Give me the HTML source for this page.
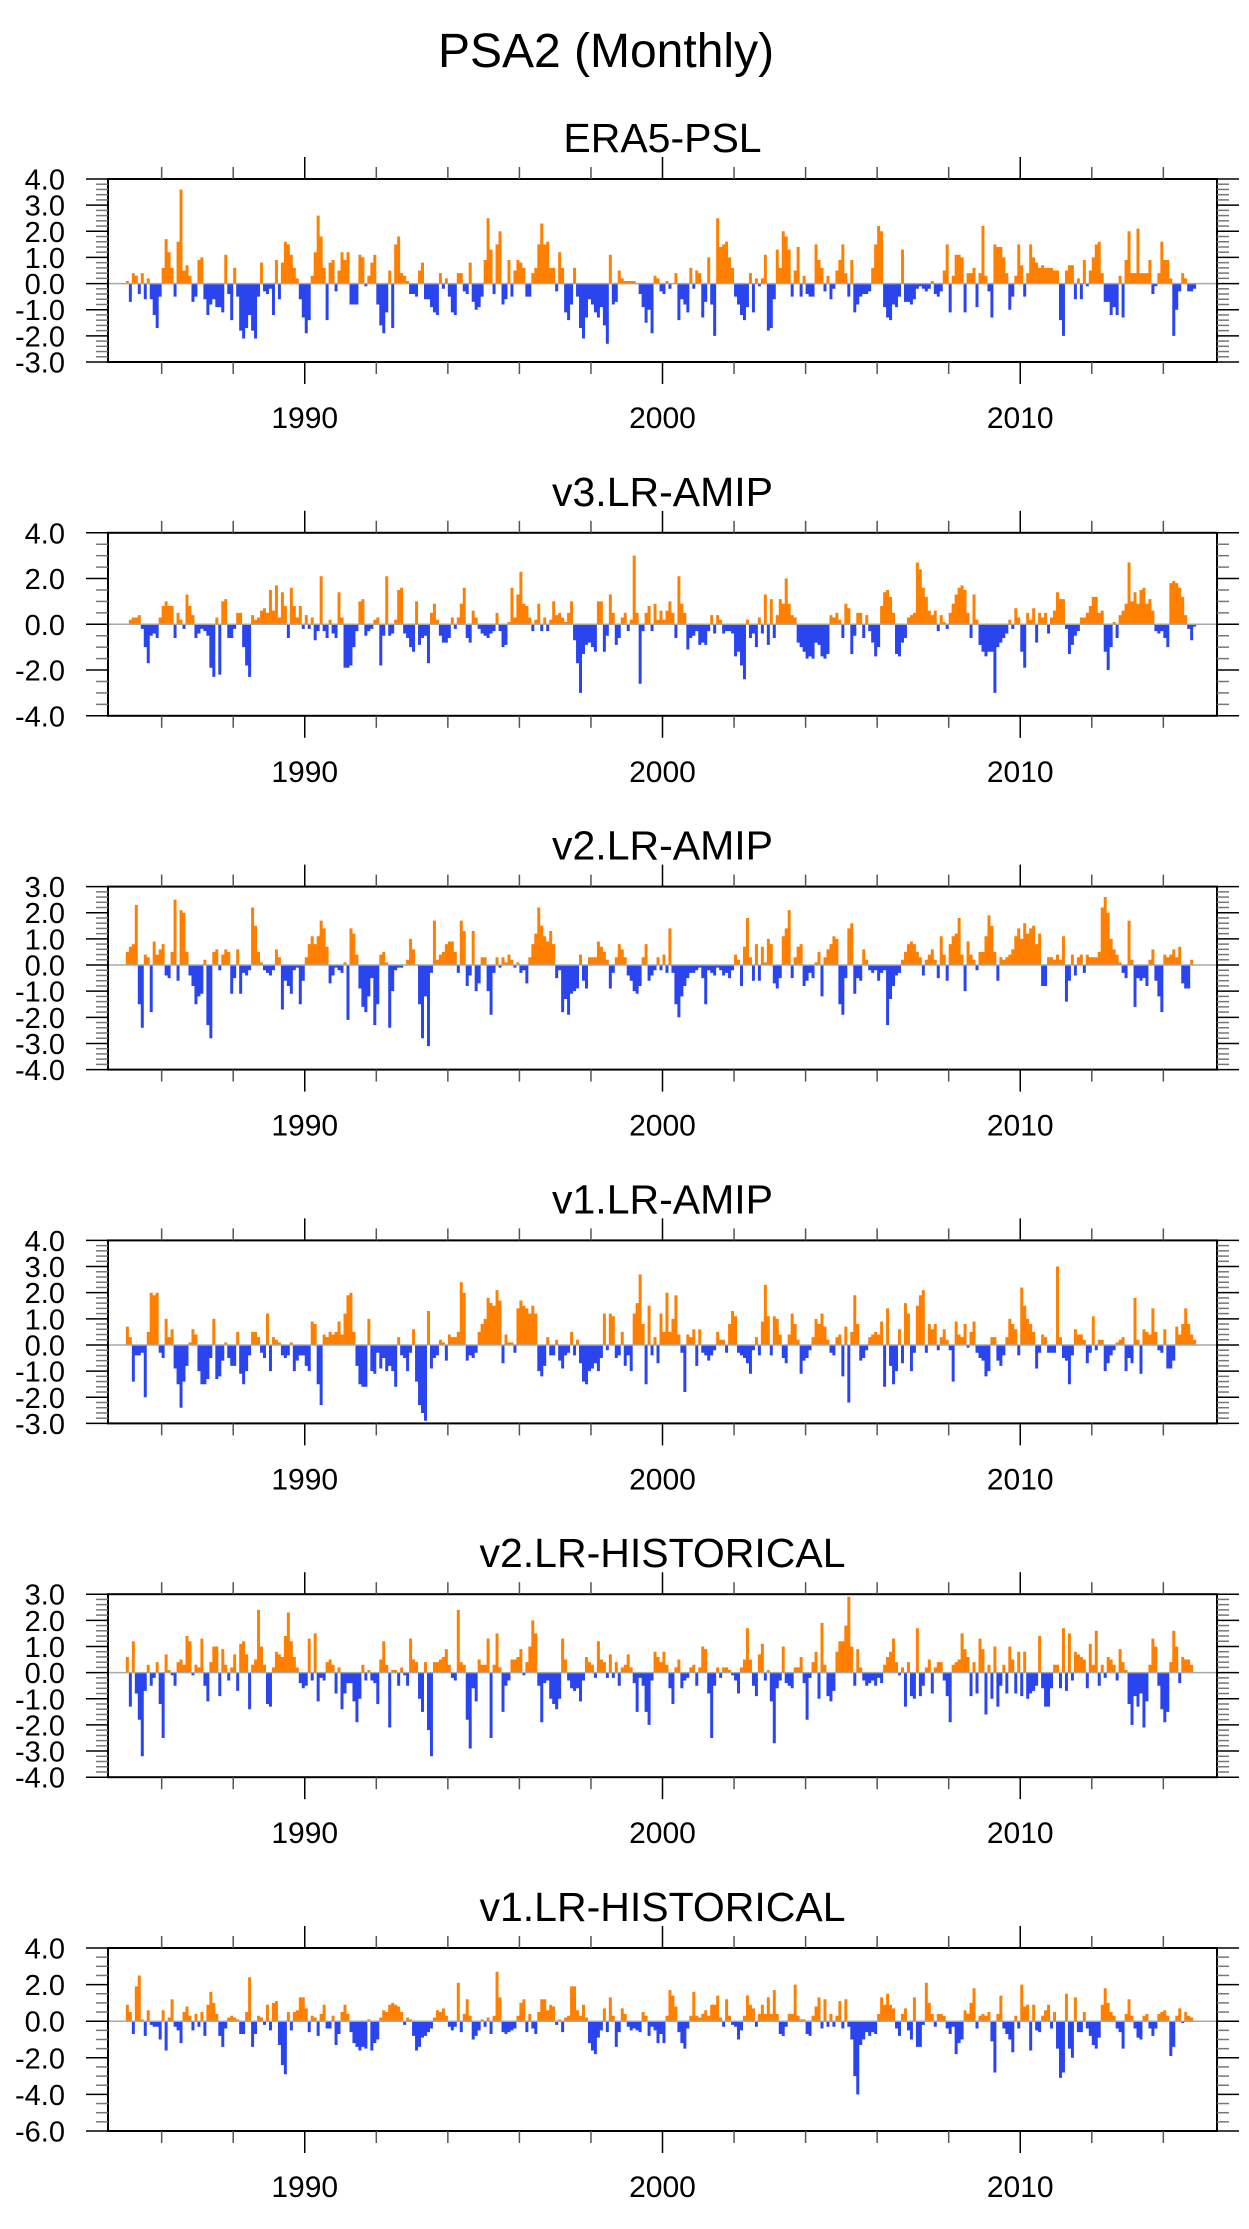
<!DOCTYPE html>
<html><head><meta charset="utf-8">
<style>
html,body{margin:0;padding:0;background:#fff;}
svg{display:block;font-family:"Liberation Sans",Arial,sans-serif;}
</style></head>
<body>
<svg id="fig" width="1249" height="2229" viewBox="0 0 1249 2229" xmlns="http://www.w3.org/2000/svg">
<rect width="1249" height="2229" fill="#fff"/>
<text x="606" y="67" font-size="48" text-anchor="middle">PSA2 (Monthly)</text>
</svg>
<script>
const startYear = 1985;
const panelTitles = ["ERA5-PSL","v3.LR-AMIP","v2.LR-AMIP","v1.LR-AMIP","v2.LR-HISTORICAL","v1.LR-HISTORICAL"];
const yMaxes = [4,4,3,4,3,4];
const yMins = [-3,-4,-4,-3,-4,-6];
const yLabelSteps = [1,2,1,1,1,2];
const yMinorSteps = [0.2,0.5,0.2,0.2,0.2,0.5];
const xTickYears = [1986,1988,1990,1992,1994,1996,1998,2000,2002,2004,2006,2008,2010,2012,2014];
const xLabelYears = [1990,2000,2010];

const seriesEra5 = [0.1,-0.7,0.4,0.3,-0.4,0.4,-0.6,0.2,-0.6,-1.2,-1.7,-0.5,
0.6,1.7,1.2,0.6,-0.5,1.6,3.6,0.5,0.7,0.3,-0.7,-0.5,
0.9,1.0,-0.6,-1.2,-0.8,-0.6,-0.9,-0.9,-1.1,1.1,-0.4,-1.4,
0.6,-0.5,-1.8,-2.1,-1.7,-1.2,-1.8,-2.1,-0.5,0.8,-0.3,-0.4,
-0.2,-1.2,0.9,-0.6,0.8,1.6,1.5,1.1,0.6,0.2,-0.6,-1.3,
-1.9,-1.4,0.3,1.2,2.6,1.8,0.6,-1.4,0.8,0.9,-0.3,0.5,
1.2,0.9,1.2,-0.8,-0.8,-0.8,1.1,1.0,-0.1,0.3,0.8,1.1,
-0.8,-1.6,-1.9,-1.1,0.5,-1.7,1.5,1.8,0.4,0.3,0.1,-0.4,
-0.4,-0.5,0.5,0.8,-0.6,-0.6,-0.9,-1.1,-1.2,0.4,-0.2,0.2,
-0.5,-1.1,-1.2,0.4,0.4,-0.3,-0.4,0.8,-0.7,-1.0,-0.9,-0.5,
0.9,2.5,1.3,-0.4,1.5,2.0,-0.8,-0.6,0.9,-0.5,0.5,0.9,
0.8,0.6,-0.5,-0.5,0.4,0.6,1.5,2.3,1.5,1.6,0.6,0.6,
-0.3,1.2,0.6,-1.1,-1.4,-0.8,0.6,-0.5,-1.7,-2.1,-1.3,-0.6,
-0.8,-1.1,-1.3,-0.9,-1.6,-2.3,1.1,-0.8,-0.7,0.5,0.2,0.1,
0.1,0.1,0.1,0.0,-0.4,-0.9,-1.5,-1.0,-1.9,0.3,0.2,-0.3,
-0.4,0.1,-0.2,0.0,0.4,-1.4,-0.6,-0.8,-1.1,0.6,
-0.2,0.5,0.4,-1.3,-0.7,1.0,-0.8,-2.0,2.5,1.4,
1.5,1.6,1.0,0.6,-0.5,-0.8,-1.2,-1.4,-0.9,0.4,
-1.1,0.2,-0.1,0.2,1.1,-1.8,-1.7,-0.6,1.3,0.6,
2.0,1.8,1.3,-0.5,0.5,1.4,-0.5,0.3,-0.4,-0.5,
-0.5,1.5,0.9,0.6,-0.3,0.3,-0.6,-0.2,0.5,0.9,
1.5,0.4,-0.5,0.9,-1.1,-0.8,-0.5,-0.4,-0.4,-0.3,
0.6,1.5,2.2,2.0,-0.9,-1.3,-1.4,-0.8,-0.9,-0.5,
1.3,-0.7,-0.7,-0.8,-0.6,-0.2,-0.1,-0.2,-0.3,-0.2,
0.1,-0.4,-0.5,-0.3,0.5,1.5,-1.1,0.3,1.1,1.1,
1.0,-1.1,0.4,0.4,0.6,-0.9,0.4,2.2,0.3,-0.3,
-1.3,1.5,1.4,1.4,1.0,0.4,-1.0,-0.5,0.3,1.5,
0.7,-0.5,0.4,1.5,1.0,0.8,0.6,0.7,0.6,0.6,
0.6,0.5,0.5,-1.4,-2.0,0.5,0.7,0.7,-0.6,0.2,
-0.6,0.9,-0.1,0.5,1.0,1.5,1.6,0.4,-0.7,-0.7,
-1.2,-0.9,-1.2,0.3,-1.3,0.9,2.0,0.4,0.4,2.1,
0.4,0.4,0.4,0.9,-0.4,-0.1,0.4,1.6,0.9,0.9,
0.2,-2.0,-1.0,-0.3,0.4,0.2,-0.3,-0.3,-0.2,0.0];

const seriesV3Amip = [0,0.2,0.3,0.3,0.4,-0.2,-1.0,-1.7,-0.5,-0.4,
-0.6,0.3,0.8,1.0,0.8,0.8,-0.6,0.5,0.2,-0.2,
1.3,0.8,0.4,-0.6,-0.4,-0.2,-0.3,-0.5,-1.9,-2.3,
0.3,-2.2,1.0,1.1,-0.6,-0.6,-0.2,0.5,0.5,-1.0,
-1.8,-2.3,0.4,0.2,0.3,0.6,0.7,0.5,1.5,0.6,
1.7,0.3,1.4,0.8,-0.6,1.6,0.8,0.3,0.8,-0.2,
0.4,-0.2,0.3,-0.7,-0.3,2.1,-0.3,-0.6,0.2,-0.4,
-0.6,1.4,0.3,-1.9,-1.9,-1.8,-1.0,-0.3,1.0,1.1,
-0.5,-0.3,-0.2,0.2,0.3,-1.8,-0.5,2.1,-0.5,-0.4,
0.2,1.5,1.6,-0.4,-0.6,-1.0,-1.2,1.0,-0.9,-0.6,
-0.5,-1.7,0.5,0.9,0.2,-0.5,-0.8,-0.8,-0.6,0.3,
-0.2,0.3,0.9,1.6,-0.6,-0.8,0.6,0.3,-0.2,-0.4,
-0.5,-0.6,-0.4,-0.3,0.5,-0.3,-1.0,-0.9,0.1,1.6,
0.3,1.3,2.3,0.9,0.8,0.3,-0.3,0.2,0.9,-0.3,
0.3,-0.3,0.2,1.0,0.4,0.5,0.3,0.1,0.5,1.0,
-0.7,-1.7,-3.0,-1.3,-0.9,-0.8,-1.0,-1.2,1.0,1.0,
-1.2,-0.5,1.3,0.5,-0.9,-0.6,0.3,0.5,-0.3,0.2,
3.0,0.5,-2.6,-0.3,0.5,0.8,-0.3,0.9,0.2,0.6,
0.2,0.6,1.0,0.5,-0.6,2.1,0.9,0.5,-1.1,-0.6,
-0.5,-0.3,-0.9,-0.8,-0.9,-0.3,0.4,-0.4,0.4,0.2,
-0.4,-0.3,-0.3,-0.4,-1.4,-1.2,-1.8,-2.4,0.2,-0.6,
-0.4,-1.0,0.3,-0.4,1.3,-0.9,1.1,-0.6,0.4,1.1,
0.9,2.0,0.9,0.4,0.3,-0.8,-1.0,-1.2,-1.5,-1.4,
-1.5,-0.8,-0.9,-1.4,-1.5,-1.3,0.4,0.3,0.5,0.2,
-0.6,0.9,0.7,-1.3,-0.5,0.5,0.5,-0.6,0.4,-0.3,
-0.8,-1.4,-1.0,0.8,1.4,1.5,1.2,0.5,-1.3,-1.4,
-0.8,-0.6,0.3,0.4,0.5,2.7,2.4,1.6,1.2,0.6,
0.4,0.6,-0.3,0.4,0.1,-0.2,0.5,0.9,1.3,1.6,
1.7,1.5,0.5,-0.6,1.3,0.2,-0.9,-1.2,-1.4,-1.2,
-1.2,-3.0,-1.0,-0.8,-0.6,-0.4,0.2,-0.2,0.7,0.3,
-1.2,-1.9,0.5,0.2,0.7,-0.8,0.5,0.3,0.5,-0.4,
0.3,0.6,1.4,1.1,1.1,-0.2,-1.3,-0.9,-0.5,-0.3,
0.3,0.3,0.5,0.8,1.2,1.2,0.5,0.6,-1.2,-2.0,
-1.0,0.1,-0.6,0.4,0.6,0.9,2.7,1.0,1.4,0.9,
1.5,1.6,0.9,1.1,0.6,-0.3,-0.4,-0.3,-0.6,-1.0,
1.8,1.9,1.8,1.6,1.2,0.4,-0.2,-0.7,-0.1,0];

const seriesV2Amip = [0.5,0.7,0.8,2.3,-1.5,-2.4,0.4,0.3,-1.8,0.9,
0.4,0.6,0.8,-0.4,-0.5,0.5,2.5,-0.6,2.1,2.0,
0.5,-0.4,-0.8,-1.5,-1.2,-1.1,0.2,-2.3,-2.8,0.5,
0.6,-0.2,0.4,0.6,0.5,-1.1,-0.5,0.6,-1.1,-0.3,
-0.4,-0.2,2.2,1.5,0.5,0.1,-0.2,-0.3,-0.4,-0.2,
0.6,0.3,-1.7,-0.6,-0.8,-1.1,-0.2,-0.1,-1.5,-0.6,
0.3,0.8,1.1,0.8,1.1,1.7,1.4,0.7,-0.7,-0.4,
-0.1,-0.2,-0.3,0.1,-2.1,1.4,1.2,0.4,-0.9,-1.6,
-1.8,-1.2,-0.5,-2.3,-1.5,0.4,0.5,0.1,-2.4,-1.0,
-0.2,-0.1,-0.1,0,0.2,1.0,0.6,0,-1.5,-2.8,
-1.2,-3.1,-0.3,1.7,0.2,0.4,0.5,0.8,0.9,0.9,
0.5,-0.3,1.7,1.3,-0.8,-0.4,1.3,-1.0,-0.7,0.3,
0.3,-1.0,-1.9,-0.3,0.3,-0.1,0.3,0.1,0.4,0.2,
-0.1,0.1,-0.3,-0.2,-0.7,0.3,0.8,1.2,2.2,1.5,
1.1,0.9,1.3,0.8,-0.5,-0.2,-1.8,-1.3,-1.9,-1.1,
-1.0,-0.9,0.4,-0.6,-0.9,0.3,0.3,0.3,0.9,0.7,
0.5,0.2,-0.9,-0.3,0.3,0.8,0.6,0.3,-0.4,-0.6,
-1.0,-1.1,-0.8,0.3,0.8,-0.6,-0.4,-0.2,0.3,-0.2,
0.4,-0.3,1.4,-0.3,-1.5,-2.0,-1.2,-0.8,-0.5,-0.3,
-0.3,-0.2,-0.1,-0.5,-1.5,-0.2,-0.3,-0.4,-0.1,-0.2,
-0.4,-0.3,-0.5,-0.2,0.4,0.2,-0.8,0.7,1.8,0.3,
-0.6,0.8,-0.6,0.7,0.1,1.0,0.8,-0.7,-0.9,-0.5,
1.1,1.4,2.1,-0.5,0.3,0.7,0.8,-0.8,-0.6,-0.3,
-0.5,0.1,0.5,-1.2,0.3,0.6,0.8,1.1,1.0,-1.5,
-1.9,-0.5,1.4,1.6,-1.1,-0.5,-0.6,0.6,0.2,-0.2,
-0.3,-0.2,-0.6,-0.3,-0.2,-2.3,-1.3,-0.8,-0.4,-0.3,
0.2,0.5,0.8,0.9,0.8,0.5,0.3,-0.4,0.2,0.4,
0.6,0.2,-0.5,1.1,0.4,-0.6,0.8,1.1,1.2,1.8,
0.4,-1.0,0.9,0.4,0.2,-0.2,0.5,0.5,1.1,1.9,
1.5,0.5,-0.6,0.3,0.2,0.3,0.4,0.6,1.1,1.4,
1.0,1.6,1.2,1.4,1.5,0.8,1.2,-0.8,-0.8,0.3,
0.3,0.2,0.4,0.2,1.1,-1.4,-0.6,0.4,-0.4,0.3,
0.4,-0.3,0.4,0.3,0.3,0.3,0.5,2.2,2.6,2.0,
1.0,0.6,0.4,0.1,-0.3,-0.5,1.7,0.2,-1.6,-0.5,
-0.6,-0.5,-0.8,0.2,0.6,-0.6,-1.2,-1.8,0.4,0.3,
0.4,0.6,0.3,0.7,-0.7,-0.9,-0.9,0.2,0,0];

const seriesV1Amip = [0.7,0.3,-1.4,-0.4,-0.4,-0.3,-2.0,0.5,2.0,1.9,
2.0,-0.3,-0.5,1.0,0.3,0.6,-0.9,-1.5,-2.4,-1.4,
-0.8,0.1,0.6,0.4,-1.0,-1.5,-1.5,-1.3,-0.5,1.0,
-1.3,-1.2,-0.6,0.1,-0.5,-0.8,-0.8,0.5,-1.1,-1.5,
-1.0,-0.4,0.5,0.5,0.3,-0.3,-0.5,1.2,-1.0,0.3,
0.2,0.1,-0.4,-0.5,-0.4,0.1,-1.0,-0.6,-0.4,-0.4,
-0.8,-1.0,0.9,0.8,-1.5,-2.3,0.4,0.3,0.5,0.4,
0.5,0.9,0.4,1.2,1.9,2.0,0.5,-0.8,-1.5,-1.6,
-1.6,1.0,-1.0,-1.1,-0.3,-0.9,-0.5,-1.0,-0.8,-1.0,
-1.6,0.3,-0.4,-0.5,-1.0,-0.3,0.6,-1.4,-2.3,-2.6,
-2.9,1.3,-0.9,-0.5,-0.4,0.2,0.1,-0.6,0.4,0.3,
0.3,0.5,2.4,2.0,-0.6,-0.4,-0.5,-0.3,0.5,0.8,
1.0,1.8,1.6,1.5,2.1,1.7,-0.7,0.4,0.1,0.1,
-0.3,1.4,1.7,1.5,1.4,1.2,1.5,1.2,-1.0,-1.2,
-0.8,0.3,-0.4,-0.4,0.2,-0.6,-0.9,-0.4,-0.3,0.5,
-0.4,0.2,-0.7,-1.4,-1.5,-1.0,-0.9,-0.7,-1.0,-0.5,
1.2,-0.2,1.2,1.1,-0.5,-0.4,0.5,-0.8,-0.4,-1.0,
1.2,1.6,2.7,0.8,-1.5,1.5,-0.4,0.3,-0.7,1.2,
0.5,2.0,0.5,1.0,1.9,0.4,-0.3,-1.8,0.4,0.3,
0.6,-0.8,0.6,-0.3,-0.4,-0.6,-0.4,-0.2,0.5,0.2,
0.2,-0.3,0.8,1.3,1.1,-0.3,-0.4,-0.5,-0.7,-1.1,
-0.2,0.3,-0.4,0.9,2.3,1.1,-0.4,1.1,1.0,0.4,
-0.5,-0.7,0.4,1.2,0.8,0.2,-1.1,-0.6,-0.5,-0.2,
0.3,1.0,0.8,1.2,0.7,0.2,-0.3,-0.4,0.3,0.4,
-1.2,0.7,-2.2,0.5,1.9,0.8,-0.6,-0.5,-0.2,0.3,
0.4,0.5,0.4,0.9,-1.6,1.4,-0.8,-1.5,-1.0,0.6,
-0.7,1.6,1.2,-1.0,-0.3,1.5,1.9,2.1,-0.3,0.8,
0.6,0.8,-0.2,0.3,0.6,0.2,-0.2,-1.4,0.9,0.4,
0.3,0.8,-0.1,0.5,0.9,-0.3,-0.5,-0.6,-1.2,-1.0,
0.3,0.3,-0.6,-0.8,-0.4,0.3,1.0,0.8,0.6,-0.4,
2.2,1.5,1.0,0.8,0.5,-0.9,-0.3,0.4,0.3,-0.3,
-0.3,-0.3,3.0,0.3,-0.5,-0.6,-1.5,-0.4,0.6,0.4,
0.4,0.2,-0.7,-0.3,1.1,-0.2,0.2,0.2,-1.0,-0.7,
-0.4,-0.2,0.1,0.2,0.3,-1.0,-0.5,-0.7,1.8,0.2,
-1.1,0.6,0.5,0.4,1.4,0.5,-0.2,-0.3,0.6,-0.9,
-0.9,-0.6,0.7,0.4,0.8,1.4,0.8,0.4,0.2,0];

const seriesV2Hist = [0.6,-1.3,1.2,-0.8,-1.8,-3.2,-0.7,0.3,-0.5,-0.2,
0.4,-1.2,-2.5,0.7,0.1,-0.1,-0.5,0.4,0.5,0.3,
1.4,1.2,-0.1,0.3,0.2,1.3,-0.5,-1.1,0.4,1.0,
1.0,-0.9,0.9,0.3,-0.3,0.2,0.7,-0.7,1.1,1.2,
0.7,-1.4,0.3,0.5,2.4,1.0,0.3,-1.2,-1.3,0.2,
0.8,0.7,0.6,1.4,2.3,1.2,0.6,0.2,-0.4,-0.6,
-0.5,1.3,-0.3,1.5,-1.1,-0.2,-0.3,0.4,0.5,0.3,
-0.8,0.2,-1.4,-0.8,-0.4,-0.4,-1.1,-1.9,-1.0,0.3,
-0.3,0.1,-0.3,-0.4,-1.2,0.5,1.2,0.3,-2.1,0.1,
0.1,-0.5,0.2,-0.1,-0.5,1.3,0.5,0.4,-1.0,-1.5,
0.4,-2.2,-3.2,0.4,0.4,0.5,0.6,0.9,0.3,-0.2,
-0.3,2.4,0.4,0.3,-1.8,-2.9,-0.6,-1.1,0.5,0.3,
0.3,1.3,-2.5,0.3,1.5,0.2,-1.5,-0.5,-0.3,0.5,
0.5,0.6,0.9,-0.1,0.4,1.0,2.0,1.5,-0.5,-1.9,
-0.4,-0.3,-1.0,-1.2,-1.4,-1.0,1.3,0.5,-0.3,-0.6,
-0.7,-0.6,-1.1,-0.3,0.6,0.4,0.3,-0.2,1.2,0.5,
0.4,-0.2,0.7,-0.2,0.4,-0.5,0.2,0.3,0.7,0.2,
-0.4,-1.5,-0.2,-0.5,-1.5,-2.0,-0.3,0.8,0.6,0.4,
0.8,0.3,-0.6,-1.2,0.2,0.5,-0.6,-0.3,-0.2,0.2,
0.3,-0.5,0.2,1.0,0.9,-0.8,-2.5,-0.5,0.2,-0.2,
0.2,0.2,0.1,-0.1,-0.3,-0.8,0.2,0.5,1.7,0.5,
-0.5,-0.9,0.7,1.1,-0.3,0.1,-1.1,-2.7,-0.6,-0.3,
1.0,-0.4,-0.5,-0.6,0.2,0.2,0.6,-0.4,-1.8,-0.2,
0.4,0.8,-1.0,1.9,0.3,-0.9,-1.1,-0.7,0.8,1.2,
1.2,1.8,2.9,1.0,-0.5,0.9,0.2,-0.3,-0.5,-0.4,
-0.3,-0.5,-0.2,-0.4,0.3,0.6,0.8,1.3,0.4,-0.1,
0.2,-1.3,0.4,-0.9,-1.0,1.7,-0.9,-0.5,0.2,0.5,
-0.8,0.2,0.4,0.4,-0.3,-0.9,-1.9,0.3,0.4,0.5,
1.5,0.9,0.6,-0.9,0.4,-0.8,1.3,0.9,-1.6,0.3,
-1.0,1.0,-1.3,-0.5,0.3,-0.8,1.0,0.5,-0.8,0.8,
-0.9,0.8,-1.0,-0.8,-0.7,-0.5,1.4,-0.6,-1.3,-1.3,
-0.6,0.3,0.3,-0.6,1.7,-0.7,1.5,-0.3,0.8,0.7,
0.6,0.5,-0.6,1.1,0.3,1.6,-0.5,0.3,-0.2,0.6,
0.5,0.3,-0.3,0.9,0.4,0.1,-1.2,-2.0,-0.9,-1.3,
-0.8,-2.1,-1.1,0.3,1.3,1.0,-0.5,-1.4,-1.9,-1.5,
0.4,1.6,1.0,-0.4,0.6,0.5,0.5,0.3,0,0];

const seriesV1Hist = [0.9,0.5,-0.7,1.9,2.5,0.1,-0.8,0.6,-0.2,-0.3,
-0.3,-1.0,0.6,-1.6,0.2,1.2,-0.3,-0.5,-1.2,0.5,
0.8,0.3,-0.5,0.4,-0.3,0.5,-0.8,0.9,1.6,1.0,
0.4,-0.8,-1.4,-0.4,0.2,0.3,0.2,0.1,-0.7,-0.7,
0.5,2.4,-1.4,-0.7,0.3,0.2,-0.2,0.9,-0.5,1.0,
1.1,-1.3,-2.4,-2.9,0.5,-0.5,0.5,0.6,1.3,1.3,
0.7,-0.6,0.3,0.2,-0.8,0.4,0.9,-0.4,-0.4,0.3,
-1.3,-0.7,0.5,0.9,0.4,-0.6,-1.2,-1.4,-1.6,-1.4,
-1.5,0.1,-1.6,-1.2,-1.0,0.2,0.6,0.5,0.9,1.0,
0.9,0.8,0.5,-0.2,0.2,0.1,-0.8,-1.6,-1.4,-0.9,
-0.8,-0.6,-0.4,0.2,0.6,0.5,0.7,0.3,-0.3,-0.5,
-0.3,2.1,-0.6,0.4,1.2,0.3,-1.0,-0.8,-0.5,0.1,
-0.3,0.2,-0.7,0.3,2.7,1.3,-0.6,-0.7,-0.6,-0.5,
-0.4,0.3,1.0,1.2,-0.6,0.4,-0.4,-0.7,0.5,1.2,
1.2,0.6,0.9,0.8,-0.2,0.1,-0.6,0.2,0.3,1.9,
1.9,0.6,0.3,0.9,0.2,-1.2,-1.6,-1.8,-0.9,-0.5,
0.7,-0.6,1.3,0.3,-1.4,-0.6,0.7,0.4,-0.3,-0.5,
-0.4,-0.5,-0.6,0.5,0.3,-0.8,-0.3,-0.5,-1.2,-0.7,
-1.2,0.3,1.7,1.4,0.8,-0.6,-1.2,-1.5,-0.4,0.3,
1.6,0.3,0.2,0.4,0.6,0.3,0.9,0.9,1.4,0.2,
-0.3,1.2,0.3,-0.2,-0.3,-1.0,-0.5,0.3,1.4,0.9,
0.7,-0.3,0.4,0.9,0.4,1.3,0.4,1.7,0.4,-0.7,
-0.8,-0.3,0.4,0.4,2.0,0.3,0.1,0.1,-0.7,-0.8,
0.3,0.8,1.3,-0.4,1.2,-0.3,0.4,-0.3,0.3,1.1,
-0.4,1.2,-0.3,-1.0,-3.0,-4.0,-1.3,-1.0,-0.6,-0.8,
-0.6,-0.7,0.4,1.3,0.9,1.5,0.9,0.7,-0.4,-0.8,
0.4,0.7,-0.5,-1.0,1.3,-1.4,-1.4,-0.2,2.1,1.0,
0.4,-0.3,0.4,0.4,0.3,-0.4,-0.7,-0.3,-1.8,-1.2,
-1.0,0.6,0.4,1.0,1.8,-0.4,0.3,0.4,0.3,0.5,
-1.1,-2.8,0.4,1.4,-0.4,-0.7,-1.0,-1.7,0.3,-0.4,
2.0,0.8,0.9,-1.6,0.9,-0.5,-0.6,0.3,0.6,0.9,
-0.4,0.5,-1.5,-3.1,-2.8,1.5,-1.5,-2.0,1.3,-0.6,
-0.6,0.5,-0.4,-0.8,-1.3,-1.5,-0.9,0.9,1.8,1.0,
0.5,0.3,-0.4,-0.6,-1.5,0.4,1.2,0.3,-0.4,-0.9,
-1.0,0.3,0.4,-0.4,-0.8,-0.4,0.4,0.5,0.6,0.3,
-1.9,-1.4,0.3,0.7,-0.1,0.5,0.3,0.2,0,0];

const allSeries = [seriesEra5, seriesV3Amip, seriesV2Amip, seriesV1Amip, seriesV2Hist, seriesV1Hist];
const panelSlugs = ["era5-psl","v3-lr-amip","v2-lr-amip","v1-lr-amip","v2-lr-historical","v1-lr-historical"];

const NS = "http://www.w3.org/2000/svg";
const svg = document.getElementById("fig");
const FX0 = 108, FX1 = 1217, FH = 183, FTOP0 = 179, FSTEP = 353.8;
const YR0 = 1984.5, YR1 = 2015.5;
function xScale(yr){ return FX0 + (yr - YR0) / (YR1 - YR0) * (FX1 - FX0); }
function mk(tag, attrs, parent){
  const e = document.createElementNS(NS, tag);
  for (const k in attrs) e.setAttribute(k, attrs[k]);
  (parent || svg).appendChild(e);
  return e;
}
function fmt(v){ return v.toFixed(1); }

allSeries.forEach(function(data, p){
  const top = FTOP0 + p * FSTEP, bot = top + FH;
  const ymax = yMaxes[p], ymin = yMins[p];
  function yScale(v){ return top + (ymax - v) / (ymax - ymin) * FH; }
  const g = mk("g", {});
  
  

  const t = mk("text", {x: (FX0+FX1)/2, y: top - 27, "font-size": 41, "text-anchor": "middle"}, g);
  
  
  t.textContent = panelTitles[p];

  const y0 = yScale(0);
  let posD = "", negD = "";
  data.forEach(function(v, i){
    const xa = xScale(startYear + i/12), xb = xScale(startYear + (i+1)/12);
    const yv = yScale(v);
    const seg = "M" + xa.toFixed(2) + "," + y0.toFixed(2) + "V" + yv.toFixed(2) + "H" + xb.toFixed(2) + "V" + y0.toFixed(2) + "Z";
    if (v >= 0) posD += seg; else negD += seg;
  });
  const pos = mk("path", {d: posD, fill: "#ff8000"}, g);
  
  
  const neg = mk("path", {d: negD, fill: "#2a44ee"}, g);
  
  
  const zl = mk("line", {x1: FX0, x2: FX1, y1: y0, y2: y0, stroke: "#a8a8a8", "stroke-width": 1.5}, g);
  
  

  const fr = mk("rect", {x: FX0, y: top, width: FX1-FX0, height: FH, fill: "none", stroke: "#000", "stroke-width": 2}, g);
  
  

  const nMinor = Math.round((ymax - ymin) / yMinorSteps[p]);
  for (let k = 0; k <= nMinor; k++){
    const v = ymin + k * yMinorSteps[p];
    const isMajor = Math.abs(v / yLabelSteps[p] - Math.round(v / yLabelSteps[p])) < 1e-6;
    const L = isMajor ? 22 : 12, col = isMajor ? "#000" : "#777";
    const yy = yScale(v);
    const tl = mk("line", {x1: FX0 - L, x2: FX0, y1: yy, y2: yy, stroke: col, "stroke-width": 1.5}, g);
    
    
    const tr = mk("line", {x1: FX1, x2: FX1 + L, y1: yy, y2: yy, stroke: col, "stroke-width": 1.5}, g);
    
    
    if (isMajor){
      const lb = mk("text", {x: 65, y: yy + 10.5, "font-size": 29, "text-anchor": "end"}, g);
      
      
      lb.textContent = fmt(v);
    }
  }

  xTickYears.forEach(function(yr){
    const xx = xScale(yr);
    const isMajor = xLabelYears.indexOf(yr) >= 0;
    const L = isMajor ? 22 : 12;
    const a = mk("line", {x1: xx, x2: xx, y1: top - L, y2: top, stroke: isMajor ? "#000" : "#555", "stroke-width": 1.5}, g);
    
    
    const b = mk("line", {x1: xx, x2: xx, y1: bot, y2: bot + L, stroke: isMajor ? "#000" : "#555", "stroke-width": 1.5}, g);
    
    
  });
  xLabelYears.forEach(function(yr){
    const lb = mk("text", {x: xScale(yr), y: bot + 66, "font-size": 30, "text-anchor": "middle"}, g);
    
    
    lb.textContent = String(yr);
  });
});
</script>
</body></html>
